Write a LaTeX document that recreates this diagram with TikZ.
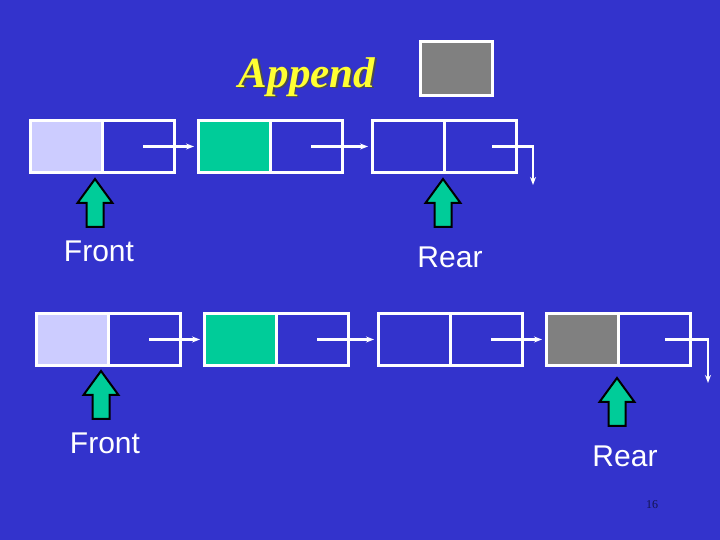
\documentclass[tikz,border=0pt]{standalone}
\usepackage{fontspec}
\setmainfont{Liberation Serif}
\newfontfamily\arialfont{Liberation Sans}
\usepackage{tikz}
\usetikzlibrary{arrows.meta, positioning}

\definecolor{slideblue}{HTML}{3333CC}
\definecolor{lavender}{HTML}{CCCCFF}
\definecolor{mint}{HTML}{00CC99}
\definecolor{newgray}{HTML}{808080}
\definecolor{titleyellow}{HTML}{FFFF33}
\definecolor{pagenum}{HTML}{141450}

\begin{document}
\begin{tikzpicture}[x=1pt, y=1pt, node distance=0pt]
        % Styles
        \tikzstyle{cell} = [draw=white, line width=3pt, rectangle, minimum width=72pt, minimum height=52pt, inner sep=0pt, outer sep=0pt]
        \tikzstyle{link} = [-{Stealth[length=8pt, width=6pt]}, white, line width=2.5pt]
        \tikzstyle{label} = [white, font=\arialfont\fontsize{30}{34}\selectfont]
        \tikzset{pics/pointer/.style={code={
            \draw[fill=mint, draw=black, line width=2pt, line join=miter]
              (0,0) -- (-17.5,-24) -- (-8.5,-24) -- (-8.5,-48) -- (8.5,-48) -- (8.5,-24) -- (17.5,-24) -- cycle;}}}

        % Background
        \fill[slideblue] (0,0) rectangle (720,540);
        \useasboundingbox (0,0) rectangle (720,540);

        % Title and new node
        \node[text=black!70, font=\bfseries\itshape\fontsize{43}{47}\selectfont] (titleshadow) at (308.5,461.5) {Append};
        \node[text=titleyellow, font=\bfseries\itshape\fontsize{43}{47}\selectfont] (title) at (307,463) {Append};
        \node[cell, fill=newgray, minimum height=54pt] (newnode) at (456,471) {};

        % Nodes, before
        \node[cell, fill=lavender] (f1d) at (66,393.5) {};
        \node[cell, right=of f1d] (f1n) {};
        \node[cell, fill=mint] (f2d) at (234,393.5) {};
        \node[cell, right=of f2d] (f2n) {};
        \node[cell] (f3d) at (408,393.5) {};
        \node[cell, right=of f3d] (f3n) {};
        \coordinate (f3end) at (533,355);

        % Nodes, after
        \node[cell, fill=lavender] (b1d) at (72,200.5) {};
        \node[cell, right=of b1d] (b1n) {};
        \node[cell, fill=mint] (b2d) at (240,200.5) {};
        \node[cell, right=of b2d] (b2n) {};
        \node[cell] (b3d) at (414,200.5) {};
        \node[cell, right=of b3d] (b3n) {};
        \node[cell, fill=newgray] (b4d) at (582,200.5) {};
        \node[cell, right=of b4d] (b4n) {};
        \coordinate (b4end) at (708,157);

        % Arrows
        \draw [link] ([xshift=5pt]f1n.center) -- ([xshift=-4pt]f2d.west);
        \draw [link] ([xshift=5pt]f2n.center) -- ([xshift=-4pt]f3d.west);
        \draw [link] ([xshift=12pt]f3n.center) -| (f3end);
        \draw [link] ([xshift=5pt]b1n.center) -- ([xshift=-4pt]b2d.west);
        \draw [link] ([xshift=5pt]b2n.center) -- ([xshift=-4pt]b3d.west);
        \draw [link] ([xshift=5pt]b3n.center) -- ([xshift=-4pt]b4d.west);
        \draw [link] ([xshift=11pt]b4n.center) -| (b4end);

        % Pointers
        \pic at (95,361) {pointer};
        \pic at (443,361) {pointer};
        \pic at (101,169) {pointer};
        \pic at (617,162) {pointer};
        \node[label] (front1) at (99,289) {Front};
        \node[label] (rear1) at (450,283) {Rear};
        \node[label] (front2) at (105,97) {Front};
        \node[label] (rear2) at (625,84) {Rear};

        % Page number
        \node[text=pagenum, font=\fontsize{12}{14}\selectfont] (page) at (652,35) {16};
    \end{tikzpicture}
\end{document}
